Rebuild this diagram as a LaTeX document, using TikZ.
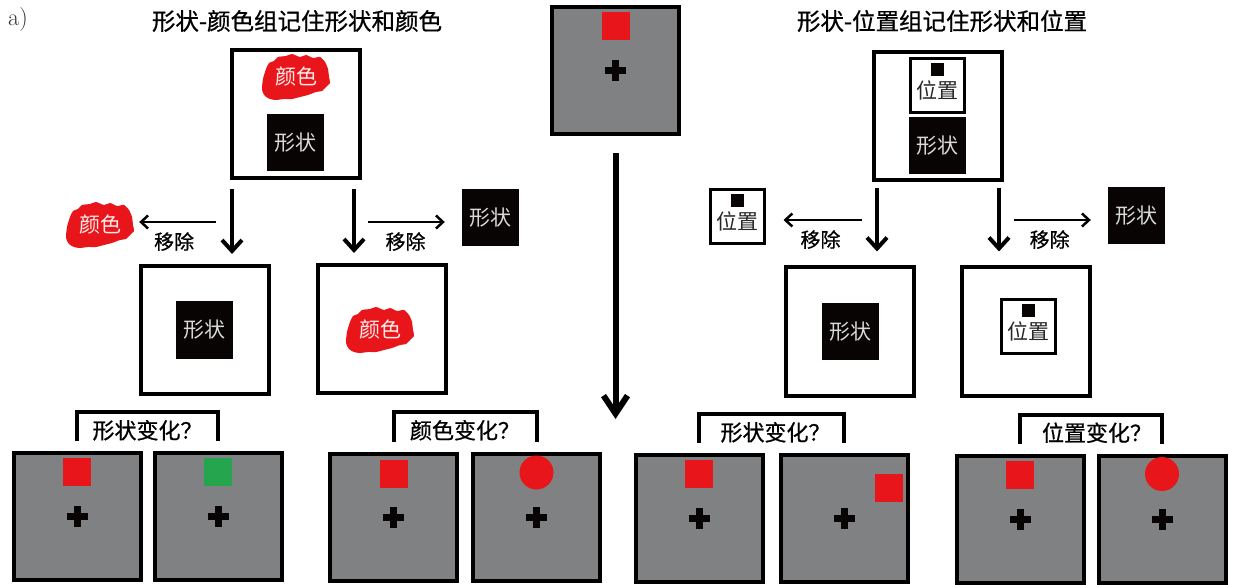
\documentclass[tikz,border=0pt]{standalone}
\usepackage{fontspec}
\newfontfamily\cjkfont{Noto Sans CJK SC}
\newfontfamily\cjkmid[FakeBold=0.7]{Noto Sans CJK SC}
\usetikzlibrary{positioning,arrows.meta}
\definecolor{stimred}{RGB}{232,22,27}
\definecolor{stimgreen}{RGB}{36,165,78}
\definecolor{screengray}{RGB}{128,129,131}
\definecolor{inkblack}{RGB}{8,4,4}
\begin{document}
\begin{tikzpicture}[x=1pt,y=-1pt,
  screen/.style={draw,line width=4pt,fill=screengray,minimum size=127pt,inner sep=0pt},
  panel/.style={draw,line width=4pt,fill=white,minimum width=128pt,minimum height=128pt,inner sep=0pt},
  shape box/.style={fill=inkblack,minimum size=57pt,inner sep=0pt,text=white!85!black,font=\cjkfont\fontsize{21}{21}\selectfont},
  place box/.style={draw,line width=3pt,fill=white,minimum size=54pt,inner sep=0pt},
  place dot/.style={fill=inkblack,minimum size=13pt,inner sep=0pt},
  place text/.style={inner sep=0pt,text=black!85,font=\cjkfont\fontsize{21}{21}\selectfont},
  paint text/.style={minimum width=64pt,inner sep=0pt,text=white!92!red,font=\cjkfont\fontsize{21}{21}\selectfont},
  red square/.style={fill=stimred,minimum size=28pt,inner sep=0pt},
  green square/.style={fill=stimgreen,minimum size=28pt,inner sep=0pt},
  red disc/.style={circle,fill=stimred,minimum size=34pt,inner sep=0pt},
  fixation/.style={line width=7pt,inkblack},
  drop/.style={-{Straight Barb[length=11pt,width=20pt]},line width=4pt},
  big drop/.style={-{Straight Barb[length=18pt,width=24pt]},line width=6pt},
  remove/.style={-{Straight Barb[length=7pt,width=13pt]},line width=2.5pt},
  cut label/.style={below=9pt,inner sep=0pt,font=\cjkmid\fontsize{20}{20}\selectfont},
  brace/.style={line width=4pt},
  ask/.style={below=6pt,inner sep=0pt,font=\cjkmid\fontsize{22}{22}\selectfont},
  title/.style={inner sep=0pt,font=\cjkmid\fontsize{23.5}{23.5}\selectfont},
  paint/.pic={
    \fill[stimred] plot[smooth cycle,tension=0.4] coordinates {(-34,13) (-33,2) (-30,-8) (-27,-14) (-22,-16) (-18,-20) (-10,-21) (-4,-23) (4,-20) (10,-22) (17,-19) (24,-20) (29,-15) (32,-8) (33,0) (34,6) (30,10) (26,14) (20,15) (12,18) (4,20) (-4,22) (-12,22) (-20,23) (-26,22) (-31,19)};
    \node[paint text] (-t) {颜色};
  },
  place/.pic={
    \node[place box] (-b) {};
    \node[place dot] (-d) at (0,-16) {};
    \node[place text] (-t) at (0,4.5) {位置};
  }]

  \useasboundingbox (0,0) rectangle (1237,585);

  \node[font=\normalfont\fontsize{24}{24}\selectfont,text=black!80] (lab) at (18,20) {a)};
  \node[title] (t1) at (297,21) {形状-颜色组记住形状和颜色};
  \node[title] (t2) at (942,21) {形状-位置组记住形状和位置};

  \node[screen] (s0) at (615.5,71) {};
  \node[red square] (s0q) at ([yshift=45pt]s0) {};
  \coordinate (go) at (615.5,419);
  \draw[big drop] ([yshift=-17pt]s0.south) -- (go);

  \node[panel] (p0) at (295.5,114) {};
  \pic (p0c) at (296,77) {paint};
  \node[shape box] (p0s) at (295.5,143) {形状};
  \node[panel] (p1) at (204.5,330) {};
  \node[shape box] (p1s) at (p1) {形状};
  \node[panel] (p2) at (381.5,329) {};
  \pic (p2c) at (380,330) {paint};
  \pic (cut1) at (100,225) {paint};
  \node[shape box] (cut2) at (490.5,217.5) {形状};

  \coordinate (a1) at (232,189);
  \coordinate (a2) at (354,189);
  \coordinate (h1) at (216,222);
  \coordinate (h2) at (368,222);
  \draw[drop,shorten >=10pt] (a1) -- (a1 |- p1.north);
  \draw[drop,shorten >=10pt] (a2) -- (a2 |- p2.north);
  \draw[remove,shorten >=7pt] (h1) -- node[cut label,midway] (m1) {移除} (h1 -| cut1-t.east);
  \draw[remove,shorten >=17pt] (h2) -- node[cut label,pos=0.4] (m2) {移除} (h2 -| cut2.west);

  \node[panel] (q0) at (937.5,116.5) {};
  \pic (q0p) at (937.5,85.5) {place};
  \node[shape box] (q0s) at (937.5,145.5) {形状};
  \node[panel] (q1) at (849.5,331.5) {};
  \node[shape box] (q1s) at (850.5,331.5) {形状};
  \node[panel] (q2) at (1025.5,331.5) {};
  \pic (q2p) at (1028,326.5) {place};
  \pic (cut3) at (737,216.5) {place};
  \node[shape box] (cut4) at (1136.5,215.5) {形状};

  \coordinate (a3) at (877,188);
  \coordinate (a4) at (999,188);
  \coordinate (h3) at (862,220);
  \coordinate (h4) at (1014,220);
  \draw[drop,shorten >=14pt] (a3) -- (a3 |- q1.north);
  \draw[drop,shorten >=14pt] (a4) -- (a4 |- q2.north);
  \draw[remove,shorten >=18pt] (h3) -- node[cut label,pos=0.43] (m3) {移除} (h3 -| cut3-b.east);
  \draw[remove,shorten >=17pt] (h4) -- node[cut label,pos=0.38] (m4) {移除} (h4 -| cut4.west);

  \node[screen] (s1) at (77,516.5) {};
  \node[screen,right=10pt of s1] (s2) {};
  \node[screen] (s3) at (393.5,517.5) {};
  \node[screen,right=12pt of s3] (s4) {};
  \node[screen] (s5) at (699,518.5) {};
  \node[screen,right=14pt of s5] (s6) {};
  \node[screen] (s7) at (1020,519) {};
  \node[screen,right=11pt of s7] (s8) {};

  \node[red square] (s1q) at ([yshift=45pt]s1) {};
  \node[green square] (s2q) at ([yshift=45pt]s2) {};
  \node[red square] (s3q) at ([yshift=44pt]s3) {};
  \node[red disc] (s4q) at ([yshift=45pt]s4) {};
  \node[red square] (s5q) at ([yshift=44.5pt]s5) {};
  \node[red square] (s6q) at ([xshift=44.5pt,yshift=30.5pt]s6) {};
  \node[red square] (s7q) at ([yshift=44pt]s7) {};
  \node[red disc] (s8q) at ([yshift=45pt]s8) {};

  \foreach \s in {s0,s1,s2,s3,s4,s5,s6,s7,s8}
    \draw[fixation] ([xshift=-10.5pt]\s.center) -- ([xshift=10.5pt]\s.center)
      ([yshift=-10.5pt]\s.center) -- ([yshift=10.5pt]\s.center);

  \draw[brace] ([yshift=10pt]s1.north) -- ++(0,-29) -| node[ask,pos=0.25] (k1) {形状变化？} ([yshift=10pt]s2.north);
  \draw[brace] ([yshift=10pt]s3.north) -- ++(0,-30) -| node[ask,pos=0.25] (k2) {颜色变化？} ([yshift=10pt]s4.north);
  \draw[brace] ([yshift=10pt]s5.north) -- ++(0,-29) -| node[ask,pos=0.25,xshift=4pt] (k3) {形状变化？} ([yshift=10pt]s6.north);
  \draw[brace] ([yshift=10pt]s7.north) -- ++(0,-29) -| node[ask,pos=0.25,xshift=6pt] (k4) {位置变化？} ([yshift=10pt]s8.north);
\end{tikzpicture}
\end{document}
